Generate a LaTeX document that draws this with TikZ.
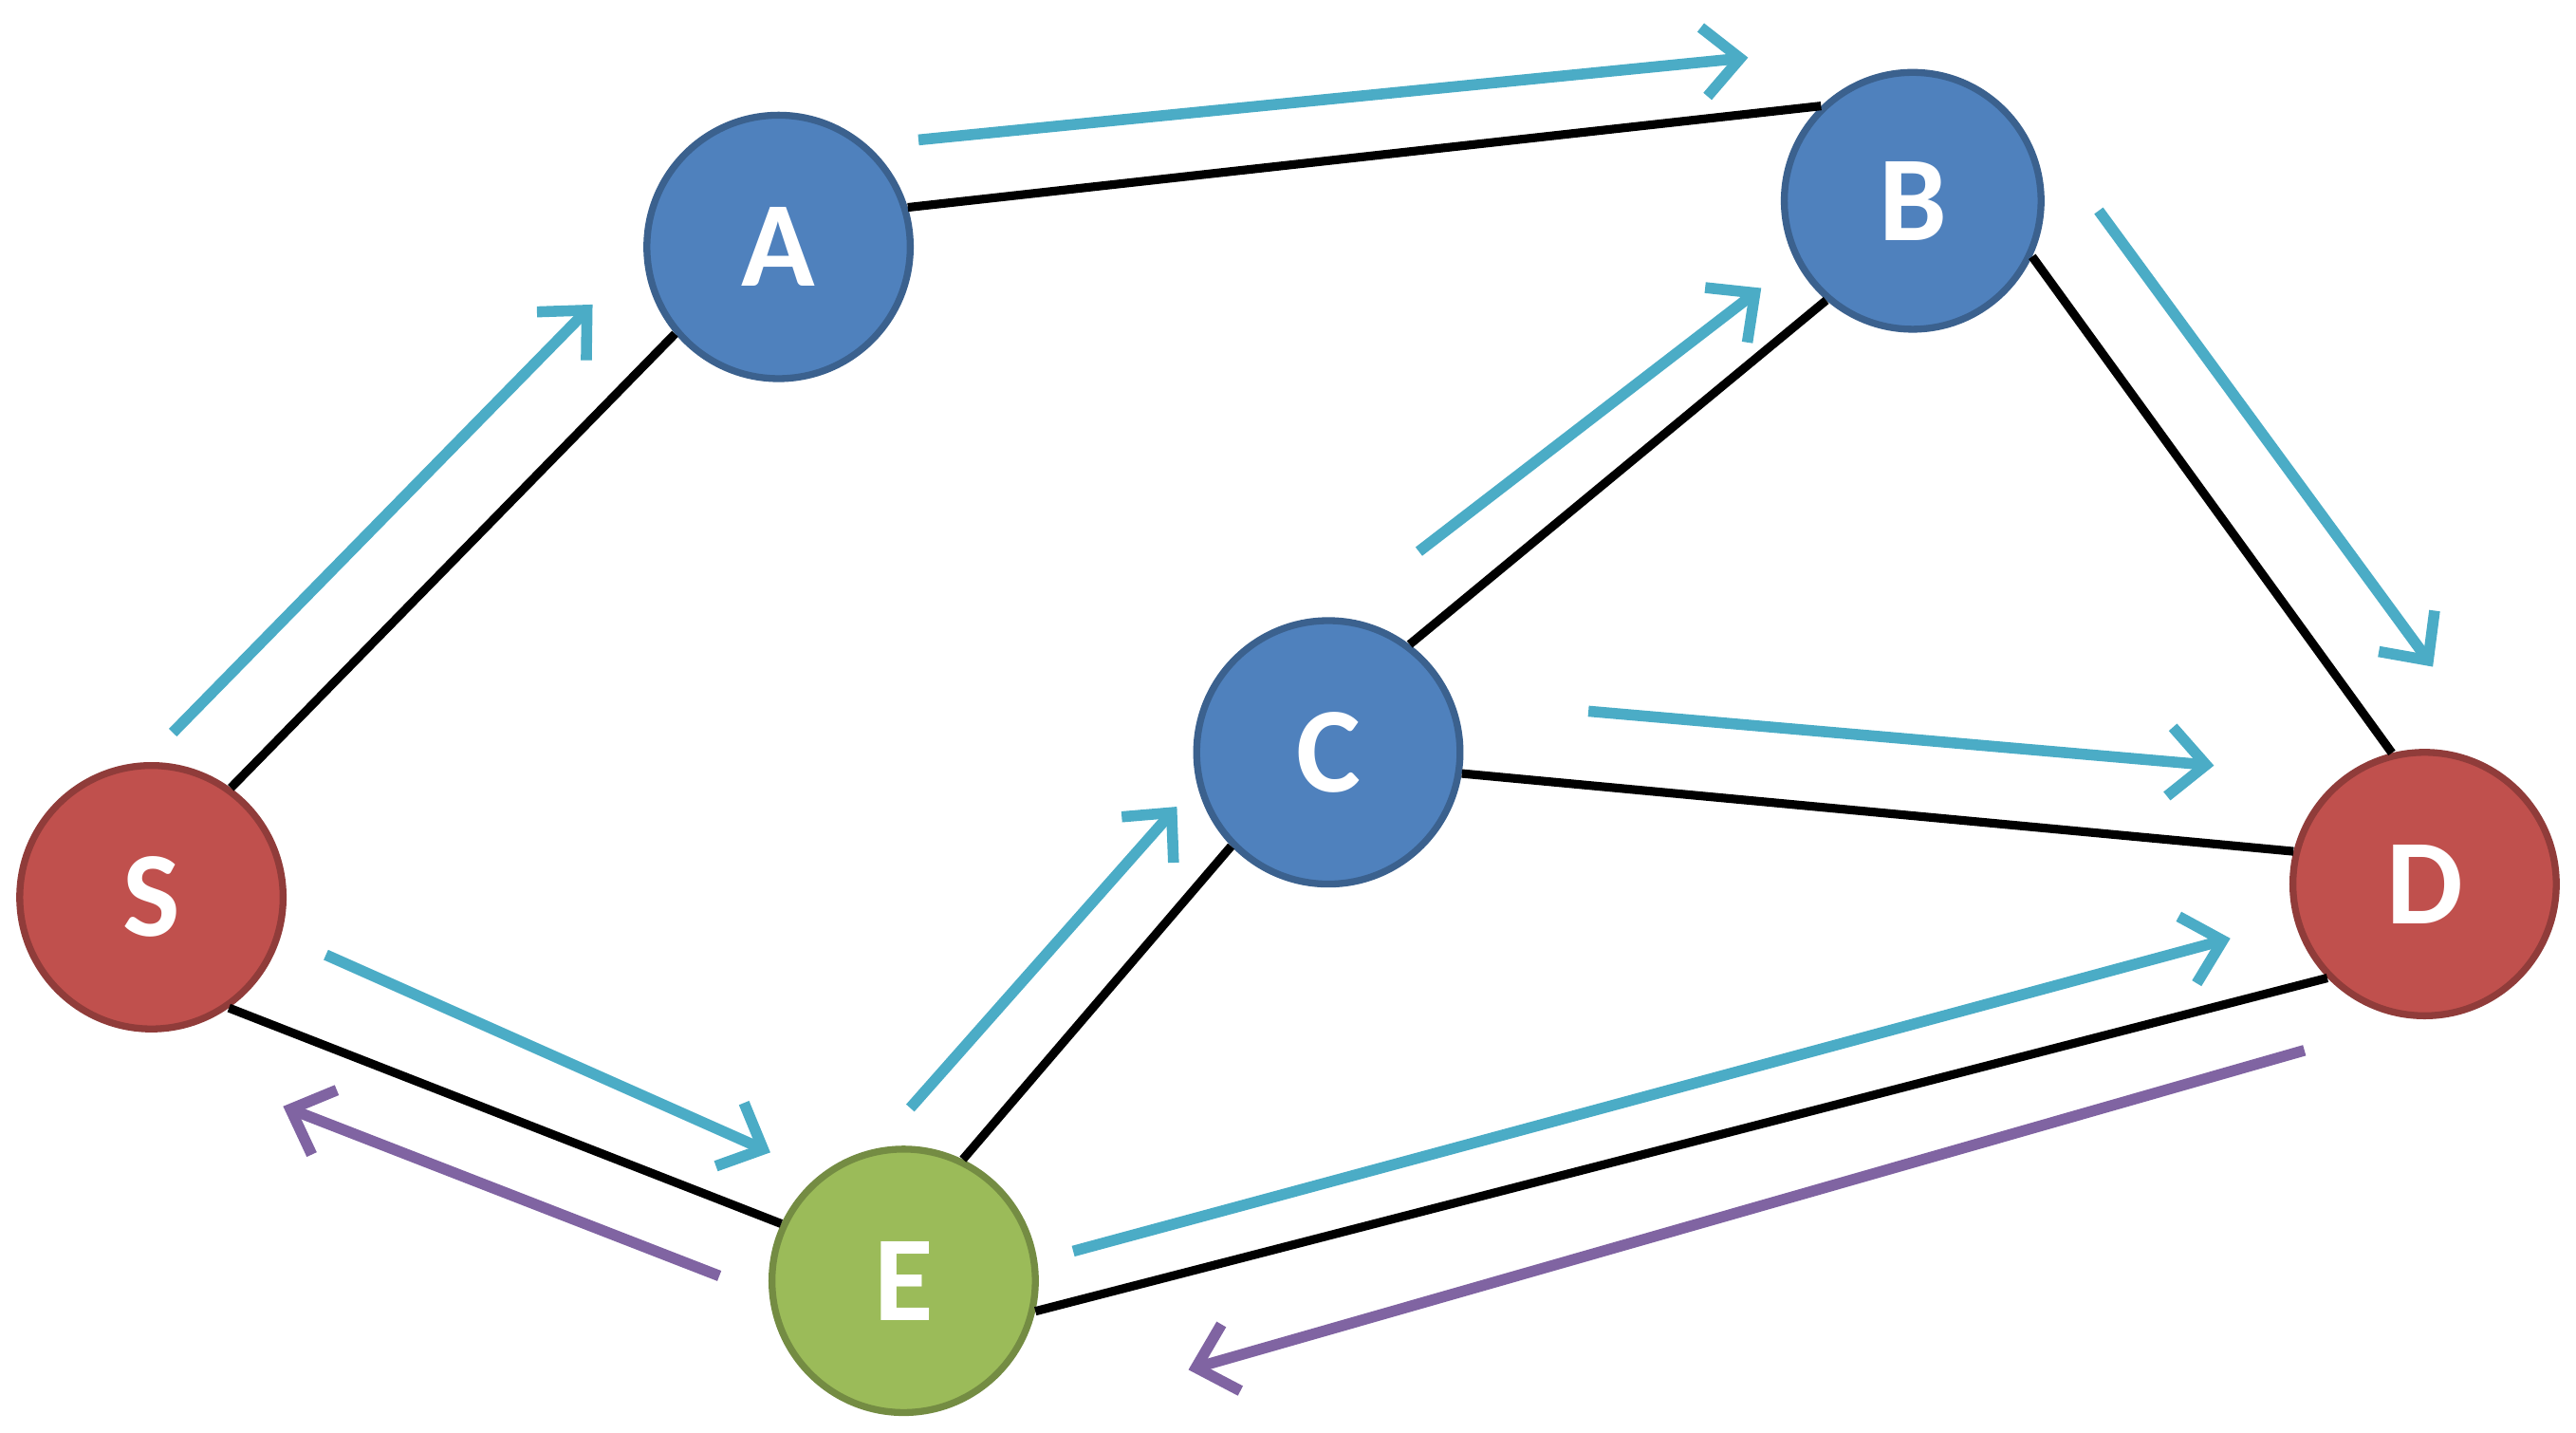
\documentclass[tikz,border=0pt]{standalone}
\usepackage{fontspec}
\setmainfont{Carlito}
\usepackage{xcolor}
\usetikzlibrary{arrows.meta, positioning}
\definecolor{nodered}{HTML}{C0504D}
\definecolor{nodeblue}{HTML}{4F81BD}
\definecolor{nodegreen}{HTML}{9BBB59}
\definecolor{fwdcyan}{HTML}{4BACC6}
\definecolor{backpurple}{HTML}{8064A2}
\tikzset{
  router/.style={circle, minimum size=1.6cm, line width=1.2pt, text=white,
    font=\fontsize{21}{24}\selectfont\bfseries},
  link/.style={line width=1.5pt, black},
  fwd/.style={line width=1.9pt, fwdcyan, -{Straight Barb[length=2.2mm,width=4.2mm]}},
  back/.style={line width=1.9pt, backpurple, -{Straight Barb[length=2.2mm,width=4.2mm]}}
}
\begin{document}
\begin{tikzpicture}
\useasboundingbox (0,0) rectangle (15.65,8.7);

\node[router, fill=nodered, draw=nodered!75!black] (S) at (0.92,3.25) {S};
\node[router, fill=nodeblue, draw=nodeblue!75!black] (A) at (4.73,7.20) {A};
\node[router, fill=nodeblue, draw=nodeblue!75!black, minimum size=1.56cm] (B) at (11.62,7.48) {B};
\node[router, fill=nodeblue, draw=nodeblue!75!black] (C) at (8.07,4.13) {C};
\node[router, fill=nodered, draw=nodered!75!black] (D) at (14.73,3.33) {D};
\node[router, fill=nodegreen, draw=nodegreen!75!black] (E) at (5.49,0.92) {E};

% links
\draw[link] (S.54) -- (A.220);
\draw[link] (A.17) -- (B.134);
\draw[link] (B.229) -- (C.53);
\draw[link] (B.335) -- (D.104);
\draw[link] (C.351) -- (D.166);
\draw[link] (C.224) -- (E.64);
\draw[link] (S.305) -- (E.155);
\draw[link] (E.347) -- (D.224);

% route request
\coordinate (sa1) at (1.05,4.25);  \coordinate (sa2) at (3.60,6.85);
\coordinate (ab1) at (5.58,7.85);  \coordinate (ab2) at (10.62,8.35);
\coordinate (bd1) at (12.75,7.42); \coordinate (bd2) at (14.78,4.65);
\coordinate (cb1) at (8.62,5.35);  \coordinate (cb2) at (10.70,6.95);
\coordinate (cd1) at (9.65,4.38);  \coordinate (cd2) at (13.45,4.05);
\coordinate (se1) at (1.98,2.90);  \coordinate (se2) at (4.68,1.70);
\coordinate (ec1) at (5.53,1.97);  \coordinate (ec2) at (7.15,3.80);
\coordinate (ed1) at (6.52,1.10);  \coordinate (ed2) at (13.55,3.00);
\draw[fwd] (sa1) -- (sa2);
\draw[fwd] (ab1) -- (ab2);
\draw[fwd] (bd1) -- (bd2);
\draw[fwd] (cb1) -- (cb2);
\draw[fwd] (cd1) -- (cd2);
\draw[fwd] (se1) -- (se2);
\draw[fwd] (ec1) -- (ec2);
\draw[fwd] (ed1) -- (ed2);

% route reply
\coordinate (es1) at (4.37,0.95);  \coordinate (es2) at (1.72,1.98);
\coordinate (de1) at (14.00,2.32); \coordinate (de2) at (7.22,0.38);
\draw[back] (es1) -- (es2);
\draw[back] (de1) -- (de2);
\end{tikzpicture}
\end{document}
